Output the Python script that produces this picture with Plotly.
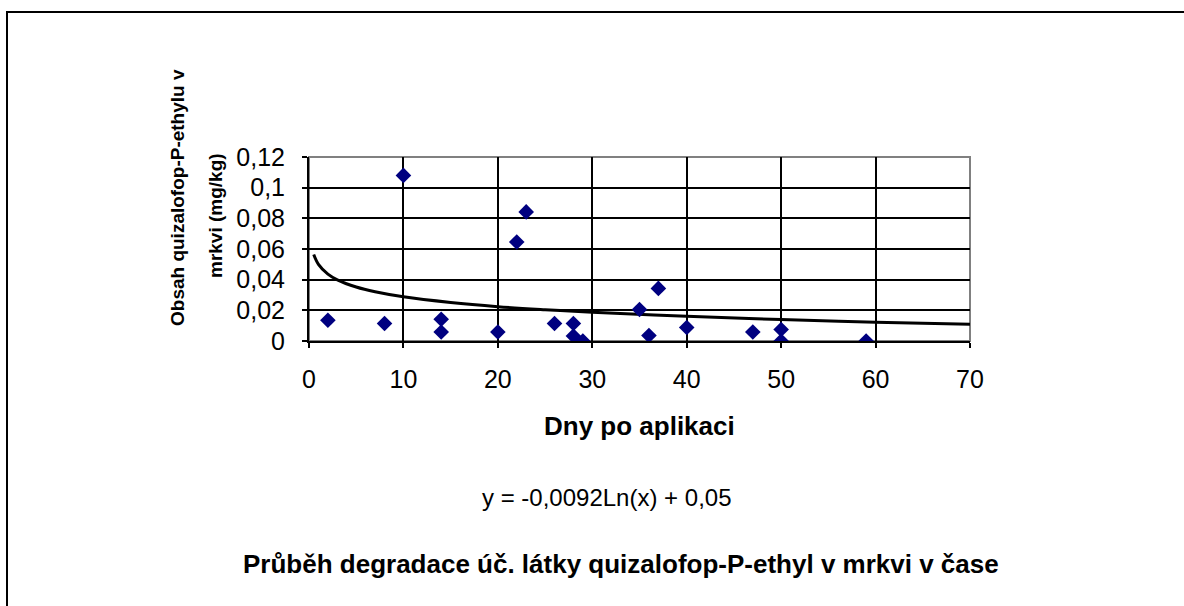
import plotly.graph_objects as go

# Measured data: days after application vs. residue (mg/kg)
days = [2, 8, 10, 14, 14, 20, 22, 23, 26, 28, 28, 29, 35, 36, 37, 40, 47, 50, 50, 59]
residue = [0.0135, 0.0114, 0.108, 0.0142, 0.0059, 0.0059, 0.0646, 0.0842, 0.0114, 0.0114,
           0.0033, 0.0, 0.0205, 0.0036, 0.0343, 0.0088, 0.0059, 0.0075, 0.0, 0.0]

# Logarithmic trendline
trend_x = [0.5, 1, 2, 3, 5, 7, 10, 15, 20, 25, 30, 40, 50, 60, 70]
trend_y = [0.0564, 0.050, 0.0436, 0.0399, 0.0352, 0.0321, 0.0288, 0.0251, 0.0224,
           0.0204, 0.0187, 0.0161, 0.0140, 0.0123, 0.0109]

y_tickvals = [0, 0.02, 0.04, 0.06, 0.08, 0.1, 0.12]
y_ticktext = ["0", "0,02", "0,04", "0,06", "0,08", "0,1", "0,12"]
x_tickvals = [0, 10, 20, 30, 40, 50, 60, 70]
x_ticktext = ["0", "10", "20", "30", "40", "50", "60", "70"]

x_title = "Dny po aplikaci"
y_title_lines = ["Obsah quizalofop-P-ethylu v", "mrkvi (mg/kg)"]
equation = "y = -0,0092Ln(x) + 0,05"
chart_title = "Průběh degradace úč. látky quizalofop-P-ethyl v mrkvi v čase"

FONT = "Liberation Sans, Arial, sans-serif"
W, H = 1184, 606
L, R, T, B = 309, 970, 157, 341  # plot area in pixels

def px(x):
    return (x - L) / (R - L)

def py(y):
    return (B - y) / (B - T)

fig = go.Figure()
fig.add_trace(go.Scatter(
    x=trend_x, y=trend_y, mode="lines", line=dict(color="black", width=3, shape="spline"),
    hoverinfo="skip", showlegend=False))
fig.add_trace(go.Scatter(
    x=days, y=residue, mode="markers",
    marker=dict(symbol="diamond", size=12, color="#000080", line=dict(width=0)),
    showlegend=False))

annotations = [
    dict(text="<b>%s</b>" % x_title, x=px(639), y=py(426), xref="paper", yref="paper",
         showarrow=False, font=dict(size=26, family=FONT, color="black"), xanchor="center", yanchor="middle"),
    dict(text=equation, x=px(607), y=py(497), xref="paper", yref="paper",
         showarrow=False, font=dict(size=24, family=FONT, color="black"), xanchor="center", yanchor="middle"),
    dict(text="<b>%s</b>" % chart_title, x=px(621), y=py(564), xref="paper", yref="paper",
         showarrow=False, font=dict(size=26, family=FONT, color="black"), xanchor="center", yanchor="middle"),
    dict(text="<b>%s</b>" % y_title_lines[0], x=px(177), y=py(198), xref="paper", yref="paper",
         showarrow=False, textangle=-90, font=dict(size=19, family=FONT, color="black"),
         xanchor="center", yanchor="middle"),
    dict(text="<b>%s</b>" % y_title_lines[1], x=px(215), y=py(216), xref="paper", yref="paper",
         showarrow=False, textangle=-90, font=dict(size=19, family=FONT, color="black"),
         xanchor="center", yanchor="middle"),
]

shapes = [
    # outer chart frame (cut off at right and bottom)
    dict(type="rect", xref="paper", yref="paper", x0=px(7), y0=py(620), x1=px(1195), y1=py(12),
         line=dict(color="black", width=2), fillcolor="rgba(0,0,0,0)", layer="below"),
    # plot area border (gray)
    dict(type="rect", xref="paper", yref="paper", x0=0, y0=0, x1=1, y1=1,
         line=dict(color="#808080", width=2), fillcolor="rgba(0,0,0,0)", layer="below"),
]

fig.update_layout(
    width=W, height=H,
    margin=dict(l=L, r=W - R, t=T, b=H - B, pad=0),
    paper_bgcolor="white", plot_bgcolor="white",
    font=dict(family=FONT, size=22, color="black"),
    annotations=annotations, shapes=shapes,
    showlegend=False,
)
fig.update_xaxes(
    range=[0, 70], tickvals=x_tickvals, ticktext=x_ticktext,
    showgrid=True, gridcolor="black", gridwidth=2,
    showline=True, linecolor="black", linewidth=2,
    ticks="outside", ticklen=5, tickcolor="black", tickwidth=2,
    tickfont=dict(size=25, family=FONT, color="black"),
    ticklabelstandoff=10, zeroline=False,
)
fig.update_yaxes(
    range=[0, 0.12], tickvals=y_tickvals, ticktext=y_ticktext,
    showgrid=True, gridcolor="black", gridwidth=2,
    showline=True, linecolor="black", linewidth=2,
    ticks="outside", ticklen=5, tickcolor="black", tickwidth=2,
    tickfont=dict(size=25, family=FONT, color="black"),
    ticklabelstandoff=12, zeroline=False,
)

fig.write_html("out.html")
